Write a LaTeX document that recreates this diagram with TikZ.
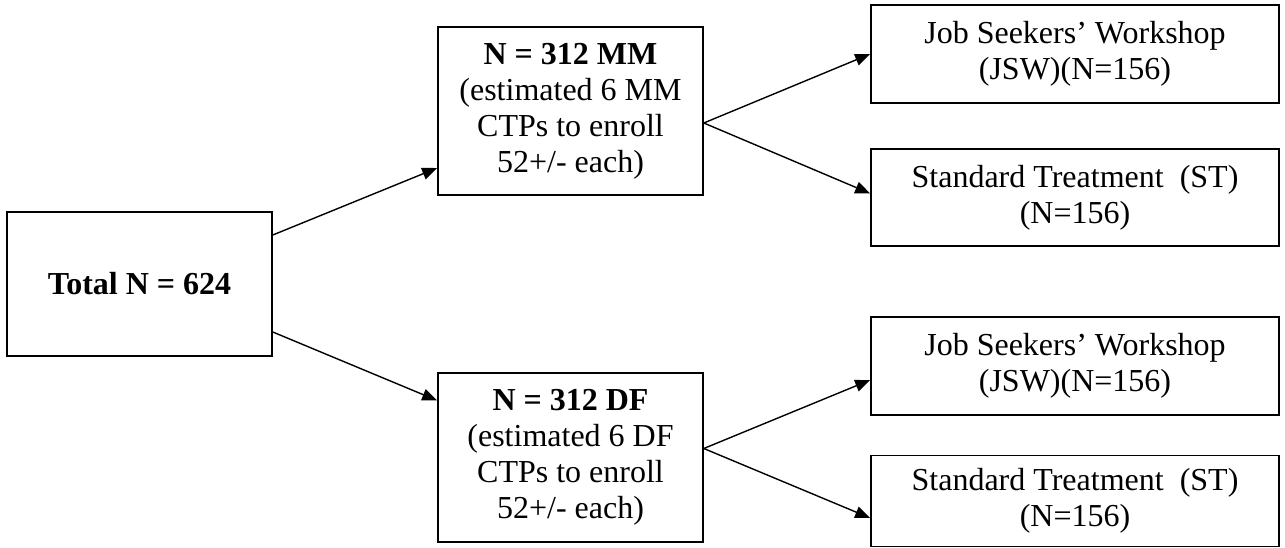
\documentclass[tikz,border=0pt]{standalone}
\usepackage{fontspec}
\setmainfont{Liberation Serif}
\usetikzlibrary{arrows.meta}
\begin{document}
\begin{tikzpicture}[x=1pt,y=1pt,
		box/.style={draw,line width=1.6pt,align=center,inner sep=0pt},
		mid/.style={box,minimum width=265pt,font=\fontsize{32}{36}\selectfont},
		arm/.style={box,minimum width=408pt,font=\fontsize{32}{36}\selectfont},
		link/.style={line width=1.4pt,-{Triangle[length=15pt,width=12pt]}}]
		\useasboundingbox (0,0) rectangle (1285,-548);
		\node [mid,minimum height=144pt] (total) at (139.5,-284) {\textbf{Total N = 624}};
		\node [mid,minimum height=168pt] (mm) at (570.5,-111) {\textbf{N = 312 MM}\\(estimated 6 MM\\CTPs to enroll\\52+/- each)};
		\node [mid,minimum height=169pt] (df) at (570.5,-457.5) {\textbf{N = 312 DF}\\(estimated 6 DF\\CTPs to enroll\\52+/- each)};
		\node [arm,minimum height=98pt] (jsw1) at (1075,-54) {Job Seekers’ Workshop\\(JSW)(N=156)};
		\node [arm,minimum height=97pt] (st1) at (1075,-197.5) {Standard Treatment~~(ST)\\(N=156)};
		\node [arm,minimum height=98pt] (jsw2) at (1075,-366) {Job Seekers’ Workshop\\(JSW)(N=156)};
		\node [arm,minimum height=91pt] (st2) at (1075,-501) {Standard Treatment~~(ST)\\(N=156)};
		\draw [link] ([yshift=49pt]total.east) -- ([yshift=-57pt]mm.west);
		\draw [link] ([yshift=-48pt]total.east) -- ([yshift=57pt]df.west);
		\draw [link] ([yshift=-12pt]mm.east) -- (jsw1.west);
		\draw [link] ([yshift=-12pt]mm.east) -- ([yshift=4pt]st1.west);
		\draw [link] ([yshift=9pt]df.east) -- ([yshift=-14pt]jsw2.west);
		\draw [link] ([yshift=9pt]df.east) -- ([yshift=-17pt]st2.west);
	\end{tikzpicture}
\end{document}
